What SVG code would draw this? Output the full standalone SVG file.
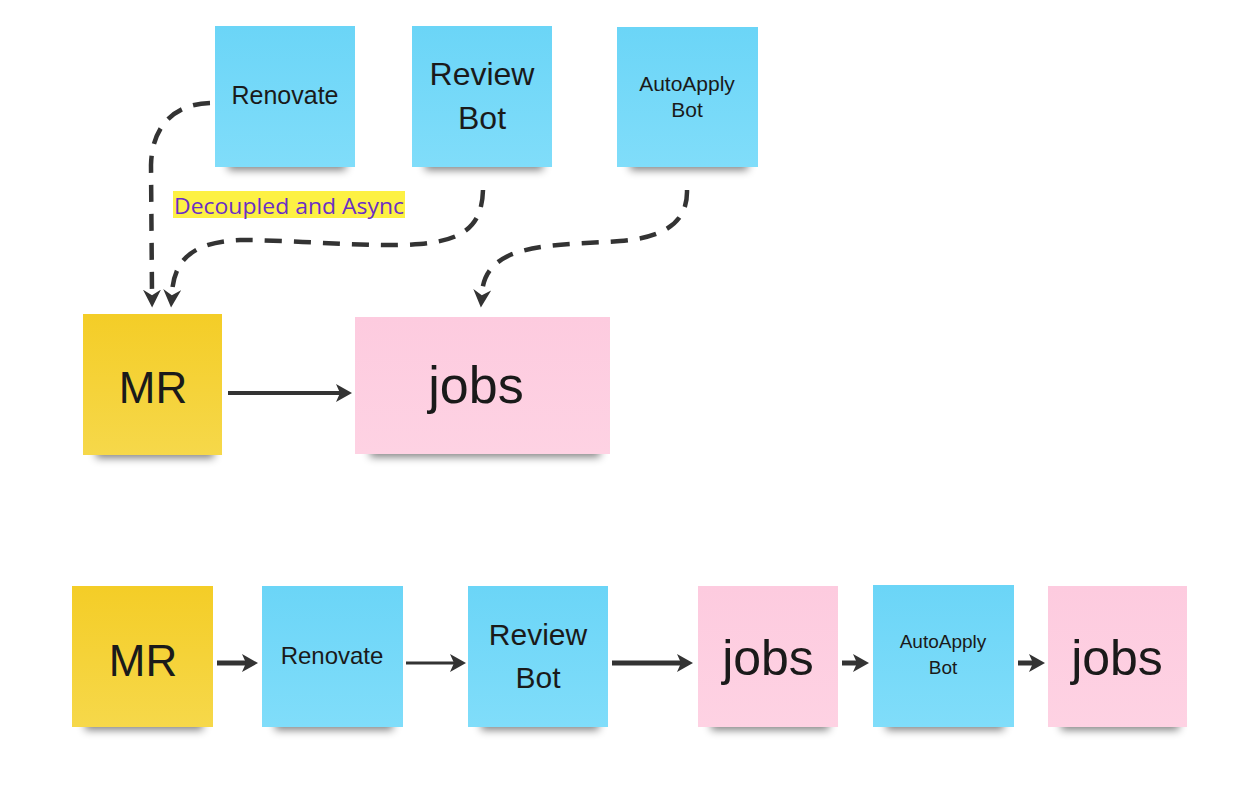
<svg xmlns="http://www.w3.org/2000/svg" width="1240" height="806" viewBox="0 0 1240 806">
<style>
.lbl{font-family:"Liberation Sans","DejaVu Sans",sans-serif;fill:#1a1a1a;text-anchor:middle}
.blue{fill:url(#gBlue)}
.yellow{fill:url(#gYellow)}
.pink{fill:url(#gPink)}
.shadow{fill:#000;opacity:0.5;filter:url(#blur)}
.dash{fill:none;stroke:#333;stroke-width:4.5;stroke-dasharray:17 12;marker-end:url(#headD)}
.solid{fill:none;stroke:#333;marker-end:url(#headS)}
</style>
<defs>
<linearGradient id="gBlue" x1="0" y1="0" x2="0" y2="1"><stop offset="0" stop-color="#6bd5f7"/><stop offset="1" stop-color="#80ddfa"/></linearGradient>
<linearGradient id="gYellow" x1="0" y1="0" x2="0" y2="1"><stop offset="0" stop-color="#f4cd27"/><stop offset="1" stop-color="#f6d84a"/></linearGradient>
<linearGradient id="gPink" x1="0" y1="0" x2="0" y2="1"><stop offset="0" stop-color="#fdcbdf"/><stop offset="1" stop-color="#fed2e3"/></linearGradient>
<filter id="blur" x="-20%" y="-100%" width="140%" height="300%"><feGaussianBlur stdDeviation="4"/></filter>
<marker id="headD" markerUnits="userSpaceOnUse" markerWidth="18" markerHeight="18" viewBox="0 0 16 16" refX="3" refY="8" orient="auto"><path d="M0,0 L16,8 L0,16 L5,8 z" fill="#333"/></marker>
<marker id="headS" markerUnits="userSpaceOnUse" markerWidth="16" markerHeight="18" viewBox="0 0 16 18" refX="4" refY="9" orient="auto"><path d="M0,0 L16,9 L0,18 L4,9 z" fill="#333"/></marker>
</defs>
<rect width="1240" height="806" fill="#fff"/>

<g id="connectors">
<path class="dash" d="M210,103 C175,104 152,125 151,165 L152,293"/>
<path class="dash" d="M483,190 C482,225 465,240 420,244 C370,248 300,240 240,240 C190,242 174,262 172,293"/>
<path class="dash" d="M687,190 C688,225 660,238 620,241 C580,244 540,243 510,255 C488,265 483,280 482,293"/>
<path class="solid" stroke-width="4" d="M228,393 L340,393"/>
<path class="solid" stroke-width="5" d="M217,663 L246,663"/>
<path class="solid" stroke-width="3" d="M406,663 L454,663"/>
<path class="solid" stroke-width="5" d="M612,663 L681,663"/>
<path class="solid" stroke-width="5" d="M842,663 L857,663"/>
<path class="solid" stroke-width="5" d="M1018,663 L1033,663"/>
</g>

<g id="label-decoupled">
<rect x="173" y="191" width="232" height="27" fill="#fdf143"/>
<text x="174" y="214" font-family="'Open Sans','Noto Sans',sans-serif" font-size="21" fill="#6a2fc6" textLength="230" lengthAdjust="spacingAndGlyphs">Decoupled and Async</text>
</g>

<g id="renovate-top">
<rect class="shadow" x="228" y="158" width="118" height="12"/>
<rect class="blue" x="215" y="26" width="140" height="141"/>
<text class="lbl" x="285" y="104" font-size="25">Renovate</text>
</g>
<g id="reviewbot-top">
<rect class="shadow" x="425" y="158" width="118" height="12"/>
<rect class="blue" x="412" y="26" width="140" height="141"/>
<text class="lbl" x="482" y="85" font-size="32">Review</text>
<text class="lbl" x="482" y="129" font-size="32">Bot</text>
</g>
<g id="autoapply-top">
<rect class="shadow" x="630" y="158" width="118" height="12"/>
<rect class="blue" x="617" y="27" width="141" height="140"/>
<text class="lbl" x="687" y="91" font-size="21">AutoApply</text>
<text class="lbl" x="687" y="117" font-size="21">Bot</text>
</g>
<g id="mr-top">
<rect class="shadow" x="96" y="446" width="118" height="12"/>
<rect class="yellow" x="83" y="314" width="139" height="141"/>
<text class="lbl" x="153" y="403" font-size="44">MR</text>
</g>
<g id="jobs-top">
<rect class="shadow" x="370" y="445" width="230" height="12"/>
<rect class="pink" x="355" y="317" width="255" height="137"/>
<text class="lbl" x="476" y="403" font-size="52">jobs</text>
</g>

<g id="mr-bottom">
<rect class="shadow" x="85" y="718" width="118" height="12"/>
<rect class="yellow" x="72" y="586" width="141" height="141"/>
<text class="lbl" x="143" y="676" font-size="44">MR</text>
</g>
<g id="renovate-bottom">
<rect class="shadow" x="275" y="718" width="118" height="12"/>
<rect class="blue" x="262" y="586" width="141" height="141"/>
<text class="lbl" x="332" y="664" font-size="24">Renovate</text>
</g>
<g id="reviewbot-bottom">
<rect class="shadow" x="481" y="718" width="118" height="12"/>
<rect class="blue" x="468" y="586" width="140" height="141"/>
<text class="lbl" x="538" y="645" font-size="30">Review</text>
<text class="lbl" x="538" y="688" font-size="30">Bot</text>
</g>
<g id="jobs-bottom-1">
<rect class="shadow" x="711" y="718" width="118" height="12"/>
<rect class="pink" x="698" y="586" width="140" height="141"/>
<text class="lbl" x="768" y="675" font-size="50">jobs</text>
</g>
<g id="autoapply-bottom">
<rect class="shadow" x="886" y="718" width="118" height="12"/>
<rect class="blue" x="873" y="585" width="141" height="142"/>
<text class="lbl" x="943" y="648" font-size="19">AutoApply</text>
<text class="lbl" x="943" y="674" font-size="19">Bot</text>
</g>
<g id="jobs-bottom-2">
<rect class="shadow" x="1061" y="718" width="118" height="12"/>
<rect class="pink" x="1048" y="586" width="139" height="141"/>
<text class="lbl" x="1117" y="675" font-size="50">jobs</text>
</g>
</svg>
